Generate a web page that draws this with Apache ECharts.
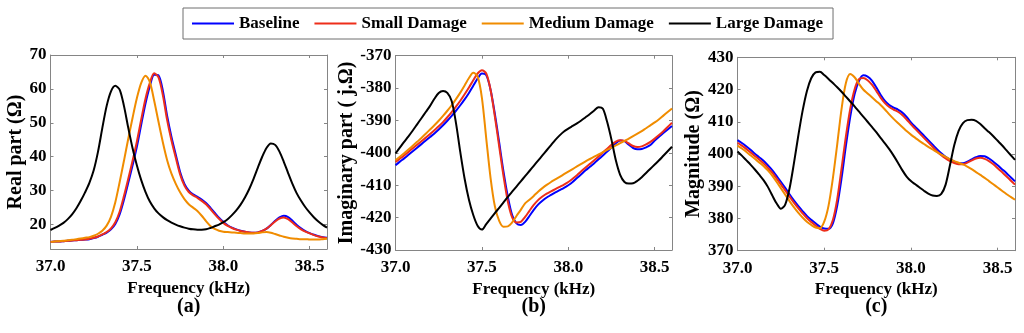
<!DOCTYPE html>
<html><head><meta charset="utf-8">
<script src="https://cdn.jsdelivr.net/npm/echarts@6/dist/echarts.min.js"></script>
<style>html,body{margin:0;padding:0;background:#fff;}#c{width:1024px;height:333px;}</style>
</head><body><div id="c"></div>
<script>
const seriesNames = ['Baseline', 'Small Damage', 'Medium Damage', 'Large Damage'];
const panelLabels = ['(a)', '(b)', '(c)'];
const yAxisNames = ['Real part (\u03A9)', 'Imaginary part ( j.\u03A9)', 'Magnitude (\u03A9)'];
const xAxisName = 'Frequency (kHz)';

const freq = [37.000,37.025,37.050,37.075,37.100,37.125,37.150,37.175,37.200,37.225,37.250,37.275,37.300,37.325,37.350,37.375,37.400,37.425,37.450,37.475,37.500,37.525,37.550,37.575,37.600,37.625,37.650,37.675,37.700,37.725,37.750,37.775,37.800,37.825,37.850,37.875,37.900,37.925,37.950,37.975,38.000,38.025,38.050,38.075,38.100,38.125,38.150,38.175,38.200,38.225,38.250,38.275,38.300,38.325,38.350,38.375,38.400,38.425,38.450,38.475,38.500,38.525,38.550,38.575,38.600];

// (a) Real part
const realBaseline = [14.9,15.0,15.0,15.1,15.2,15.3,15.4,15.5,15.6,15.7,16.0,16.4,17.0,17.6,18.6,20.2,23.0,27.3,32.3,37.5,43.0,49.5,55.8,60.8,64.2,64.0,59.5,52.0,45.8,40.6,35.5,32.0,30.0,28.9,28.2,27.4,26.4,25.0,23.5,22.0,20.8,19.8,19.1,18.6,18.2,17.9,17.7,17.6,17.7,18.1,18.8,19.9,21.1,22.1,22.6,22.2,21.1,19.9,18.9,18.1,17.5,17.0,16.6,16.3,16.1];
const realSmall = [14.9,15.0,15.0,15.1,15.2,15.3,15.4,15.5,15.6,15.8,16.1,16.5,17.1,17.8,18.9,20.7,23.8,28.4,33.5,38.8,44.5,51.0,57.2,61.8,64.6,63.4,58.2,50.8,44.8,39.7,34.8,31.5,29.6,28.6,27.9,27.0,26.0,24.6,23.1,21.7,20.5,19.6,19.0,18.5,18.1,17.9,17.7,17.6,17.7,18.1,18.8,19.8,20.9,21.8,22.1,21.6,20.6,19.5,18.6,17.9,17.4,16.9,16.5,16.2,16.0];
const realMedium = [14.9,15.0,15.1,15.2,15.4,15.5,15.7,15.9,16.1,16.3,16.7,17.3,18.2,19.7,22.3,26.6,32.5,38.8,45.3,51.5,57.3,61.8,63.9,62.0,56.5,50.3,44.3,39.0,35.0,32.0,29.5,27.5,26.0,25.0,24.0,22.6,21.0,19.6,18.7,18.2,17.9,17.8,17.7,17.6,17.5,17.4,17.4,17.4,17.5,17.7,17.8,17.6,17.2,16.8,16.4,16.1,15.9,15.8,15.7,15.7,15.6,15.6,15.6,15.7,15.8];
const realLarge = [18.4,19.0,19.7,20.5,21.6,23.0,24.8,27.0,29.5,32.3,36.0,41.5,48.5,55.0,59.3,60.9,59.8,55.0,48.5,42.5,37.4,33.1,29.6,26.8,24.8,23.3,22.2,21.3,20.6,20.0,19.5,19.1,18.8,18.6,18.5,18.5,18.6,19.0,19.5,20.0,20.7,21.6,22.8,24.2,25.9,28.0,30.5,33.5,36.8,40.0,42.6,43.9,43.5,41.5,38.5,35.2,32.0,29.2,27.0,25.1,23.5,22.1,20.9,19.9,19.1];

// (b) Imaginary part
const imagBaseline = [-403.8,-402.7,-401.7,-400.6,-399.5,-398.4,-397.3,-396.2,-395.1,-394.0,-392.8,-391.5,-390.1,-388.6,-387.0,-385.3,-383.5,-381.5,-379.3,-377.1,-375.5,-376.0,-380.5,-388.0,-396.8,-405.8,-413.5,-419.2,-421.8,-422.3,-421.3,-419.5,-417.6,-416.0,-414.8,-413.8,-413.0,-412.2,-411.5,-410.8,-410.0,-409.0,-407.8,-406.6,-405.4,-404.3,-403.2,-402.0,-400.8,-399.6,-398.3,-397.0,-396.2,-396.4,-397.5,-398.5,-398.9,-398.8,-398.3,-397.6,-396.2,-395.0,-393.9,-392.8,-391.7];
const imagSmall = [-402.8,-401.8,-400.8,-399.7,-398.6,-397.5,-396.4,-395.3,-394.2,-393.0,-391.8,-390.5,-389.0,-387.4,-385.7,-383.9,-381.9,-379.8,-377.6,-375.5,-374.5,-375.5,-380.5,-388.8,-398.0,-407.2,-415.0,-419.9,-421.5,-421.3,-419.8,-417.9,-416.1,-414.6,-413.5,-412.6,-411.9,-411.2,-410.5,-409.8,-409.0,-408.0,-406.9,-405.7,-404.5,-403.4,-402.3,-401.1,-399.9,-398.7,-397.5,-396.5,-396.1,-396.3,-397.1,-397.9,-398.2,-398.0,-397.4,-396.6,-395.6,-394.5,-393.3,-392.0,-390.7];
const imagMedium = [-402.3,-401.2,-400.1,-399.0,-397.8,-396.6,-395.4,-394.1,-392.8,-391.5,-390.1,-388.6,-387.0,-385.3,-383.4,-381.4,-379.2,-376.9,-375.3,-376.4,-383.0,-395.5,-407.7,-416.5,-421.0,-422.8,-422.7,-421.5,-419.5,-417.6,-415.6,-414.5,-413.3,-412.0,-410.9,-409.9,-409.0,-408.2,-407.4,-406.6,-405.8,-405.0,-404.2,-403.4,-402.6,-401.9,-401.2,-400.5,-399.8,-399.1,-398.4,-397.7,-397.0,-396.3,-395.6,-394.8,-394.1,-393.3,-392.4,-391.5,-390.6,-389.6,-388.5,-387.4,-386.3];
const imagLarge = [-400.2,-398.4,-396.6,-394.9,-393.1,-391.2,-389.3,-387.4,-385.5,-383.3,-381.5,-380.9,-381.5,-384.0,-390.8,-399.8,-408.0,-414.5,-419.2,-422.5,-423.7,-422.0,-420.3,-418.6,-417.0,-415.3,-413.6,-412.0,-410.4,-408.8,-407.2,-405.6,-404.0,-402.4,-400.8,-399.2,-397.6,-396.0,-394.6,-393.4,-392.5,-391.7,-390.9,-390.0,-389.0,-388.0,-386.9,-385.9,-386.4,-390.5,-396.0,-402.3,-406.8,-409.0,-409.5,-409.4,-408.6,-407.5,-406.2,-404.9,-403.6,-402.3,-400.9,-399.5,-398.1];

// (c) Magnitude
const magBaseline = [404.3,403.4,402.4,401.3,400.1,399.0,397.9,396.5,395.0,393.2,391.4,389.5,387.5,385.6,383.9,382.3,380.8,379.6,378.5,377.5,376.9,376.8,378.5,384.0,392.5,402.5,411.5,418.5,422.6,424.4,424.0,422.8,420.7,418.4,416.5,415.2,414.4,413.8,412.9,411.5,409.8,408.4,407.1,405.7,404.3,402.9,401.5,400.2,399.1,398.3,397.6,397.1,397.1,397.6,398.3,399.0,399.4,399.3,398.6,397.6,396.5,395.3,394.1,392.8,391.5];
const magSmall = [403.5,402.6,401.6,400.5,399.4,398.3,397.1,395.7,394.2,392.4,390.6,388.7,386.8,384.9,383.2,381.6,380.1,378.9,377.8,376.8,376.2,376.6,379.5,386.0,395.5,405.5,414.0,420.0,423.2,423.6,422.9,421.5,419.6,417.5,415.8,414.6,413.8,413.1,412.1,410.7,409.2,407.8,406.4,405.0,403.6,402.2,400.8,399.6,398.6,397.8,397.2,396.8,396.8,397.3,398.0,398.6,398.8,398.5,397.8,396.8,395.6,394.4,393.1,391.8,390.5];
const magMedium = [402.6,401.7,400.7,399.6,398.5,397.4,396.3,394.9,393.3,391.4,389.4,387.4,385.4,383.5,381.8,380.3,379.0,378.0,377.2,377.0,379.0,384.0,392.5,403.0,414.0,422.0,424.8,423.8,421.8,420.0,418.8,417.6,416.4,415.2,413.8,412.3,410.9,409.6,408.4,407.1,406.0,405.0,404.0,403.1,402.2,401.4,400.6,399.8,399.1,398.4,397.8,397.3,396.8,396.1,395.3,394.4,393.5,392.6,391.6,390.6,389.6,388.6,387.6,386.7,385.8];
const magLarge = [400.8,399.5,398.1,396.7,395.2,393.6,391.9,389.8,387.2,384.7,383.0,384.3,389.3,397.0,405.5,413.3,419.5,423.5,425.3,425.5,424.5,423.3,422.0,420.7,419.3,417.8,416.3,414.8,413.2,411.6,410.0,408.4,406.8,405.0,403.3,401.5,399.5,397.3,395.0,393.0,391.6,390.6,389.6,388.6,387.7,387.1,387.0,387.6,390.5,396.5,402.8,407.2,409.6,410.5,410.6,410.3,409.3,408.0,406.8,405.5,404.1,402.7,401.2,399.7,398.2];

const xTicks = [37.0, 37.5, 38.0, 38.5];
const yTicks = [
  [20, 30, 40, 50, 60, 70],
  [-430, -420, -410, -400, -390, -380, -370],
  [370, 380, 390, 400, 410, 420, 430]
];
const yRanges = [[12.8, 70], [-430, -370], [370, 430]];

const panelData = [
  [realBaseline, realSmall, realMedium, realLarge],
  [imagBaseline, imagSmall, imagMedium, imagLarge],
  [magBaseline, magSmall, magMedium, magLarge]
];
const colors = ['#0000ff', '#ee2e1a', '#f08c00', '#000000'];

const grids = [
  {left: 50.5, top: 55, width: 276.5, height: 194},
  {left: 395.5, top: 55.7, width: 276.5, height: 194.3},
  {left: 737.5, top: 57.3, width: 277.5, height: 193.4}
];
const yNameGaps = [25, 39, 33];
const FONT = '"Liberation Serif", "Times New Roman", serif';
const frameColor = '#858585';

const xAxes = [], yAxes = [], series = [], graphics = [];
grids.forEach((g, p) => {
  const xl = {
    gridIndex: p, type: 'value', min: 37, max: 38.6,
    axisLine: {show: true, onZero: false, lineStyle: {color: frameColor, width: 1}},
    axisTick: {show: true, inside: true, length: 3, customValues: xTicks, lineStyle: {color: frameColor}},
    splitLine: {show: false}
  };
  xAxes.push(Object.assign({}, xl, {
    position: 'bottom',
    name: xAxisName, nameLocation: 'middle', nameGap: 24,
    nameTextStyle: {fontFamily: FONT, fontWeight: 'bold', fontSize: 17, color: '#000'},
    axisLabel: {margin: 9, fontFamily: FONT, fontWeight: 'bold', fontSize: 17, color: '#000',
      customValues: xTicks, formatter: v => Number(v).toFixed(1)}
  }));
  xAxes.push(Object.assign({}, xl, {position: 'top', axisLabel: {show: false}}));
  const yl = {
    gridIndex: p, type: 'value', min: yRanges[p][0], max: yRanges[p][1],
    axisLine: {show: true, onZero: false, lineStyle: {color: frameColor, width: 1}},
    axisTick: {show: true, inside: true, length: 3, customValues: yTicks[p], lineStyle: {color: frameColor}},
    splitLine: {show: false}
  };
  yAxes.push(Object.assign({}, yl, {
    position: 'left',
    name: yAxisNames[p], nameLocation: 'middle', nameGap: yNameGaps[p],
    nameTextStyle: {fontFamily: FONT, fontWeight: 'bold', fontSize: 20, color: '#000'},
    axisLabel: {margin: 4, fontFamily: FONT, fontWeight: 'bold', fontSize: 17, color: '#000',
      customValues: yTicks[p], formatter: v => String(Math.round(v))}
  }));
  yAxes.push(Object.assign({}, yl, {position: 'right', axisLabel: {show: false}}));
  panelData[p].forEach((ys, s) => {
    series.push({
      name: seriesNames[s], type: 'line', xAxisIndex: 2 * p, yAxisIndex: 2 * p,
      data: freq.map((f, i) => [f, ys[i]]),
      showSymbol: false, symbol: 'none', smooth: 0.3, clip: true,
      lineStyle: {color: colors[s], width: 2}, itemStyle: {color: colors[s]},
      z: 2 + s
    });
  });
  graphics.push({
    type: 'text', x: g.left + g.width / 2, y: 307,
    style: {text: panelLabels[p], textAlign: 'center', textVerticalAlign: 'middle',
      font: 'bold 20px ' + FONT, fill: '#000'}
  });
});

const chart = echarts.init(document.getElementById('c'), null, {renderer: 'canvas'});
chart.setOption({
  animation: false,
  backgroundColor: '#fff',
  grid: grids,
  xAxis: xAxes,
  yAxis: yAxes,
  legend: {
    data: seriesNames, left: 183, top: 8, icon: 'rect', itemWidth: 42, itemHeight: 2,
    itemGap: 15, padding: [7, 10, 7, 9], borderColor: '#6e6e6e', borderWidth: 1,
    textStyle: {fontFamily: FONT, fontWeight: 'bold', fontSize: 17, color: '#000'}
  },
  series: series,
  graphic: graphics
});
</script>
</body></html>
